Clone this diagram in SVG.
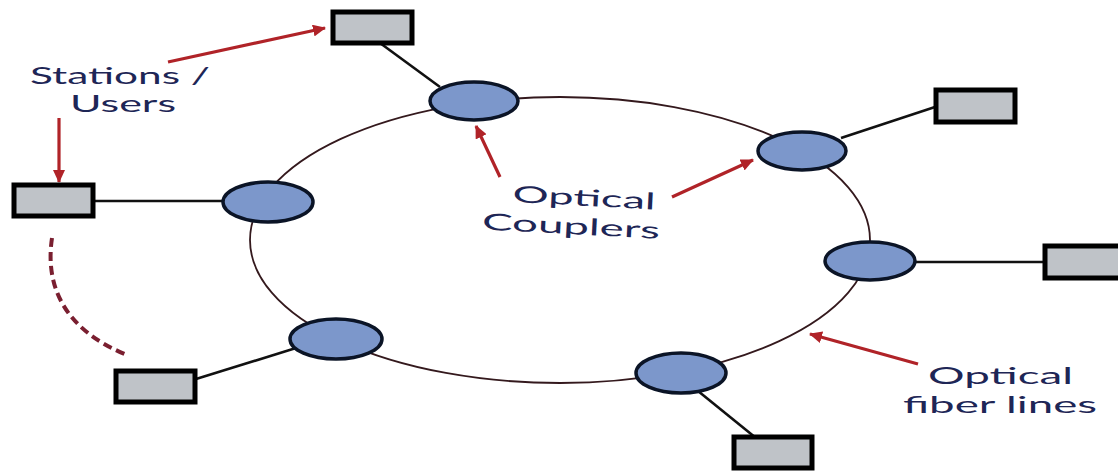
<svg xmlns="http://www.w3.org/2000/svg" width="1118" height="474" viewBox="0 0 1118 474">
<style>
.box{fill:#bfc3c8;stroke:#000;stroke-width:5}
.cp{fill:#7c97cb;stroke:#0b1426;stroke-width:3.5}
.spoke{stroke:#111;stroke-width:2.6;fill:none}
.ring{stroke:#34191d;stroke-width:1.8;fill:none}
.arr{stroke:#b02328;stroke-width:3.2;fill:none;marker-end:url(#ah)}
.lbl{font-family:Lato,"Open Sans",sans-serif;fill:#1e2656;font-size:23px}
</style>
<defs>
<marker id="ah" markerUnits="userSpaceOnUse" markerWidth="14" markerHeight="12" refX="12" refY="6" orient="auto">
<path d="M0,0 L13,6 L0,12 Z" fill="#b02328"/>
</marker>
</defs>
<rect width="1118" height="474" fill="#fff"/>
<g id="connectors">
<ellipse class="ring" cx="560" cy="240" rx="310" ry="143"/>
<line class="spoke" x1="380" y1="43" x2="440" y2="87"/>
<line class="spoke" x1="95" y1="201" x2="224" y2="201"/>
<line class="spoke" x1="841" y1="138" x2="935" y2="107"/>
<line class="spoke" x1="914" y1="262" x2="1044" y2="262"/>
<line class="spoke" x1="698" y1="391" x2="756" y2="438"/>
<line class="spoke" x1="196" y1="379" x2="296" y2="348"/>
<path d="M52 238 C44 292, 70 332, 127 355" fill="none" stroke="#7a1f30" stroke-width="4" stroke-dasharray="9 5"/>
<line class="arr" x1="168" y1="62" x2="325" y2="28"/>
<line class="arr" x1="59" y1="118" x2="59" y2="182"/>
<line class="arr" x1="500" y1="177" x2="476" y2="126"/>
<line class="arr" x1="672" y1="197" x2="753" y2="160"/>
<line class="arr" x1="918" y1="364" x2="810" y2="334"/>
</g>
<g id="station-top"><rect class="box" x="333" y="12" width="79" height="31"/></g>
<g id="station-left"><rect class="box" x="14" y="185" width="79" height="31"/></g>
<g id="station-upper-right"><rect class="box" x="936" y="90" width="79" height="32"/></g>
<g id="station-right"><rect class="box" x="1045" y="246" width="80" height="32"/></g>
<g id="station-bottom-right"><rect class="box" x="734" y="437" width="78" height="31"/></g>
<g id="station-bottom-left"><rect class="box" x="116" y="371" width="79" height="31"/></g>
<g id="coupler-top"><ellipse class="cp" cx="474" cy="101" rx="44" ry="19"/></g>
<g id="coupler-upper-right"><ellipse class="cp" cx="802" cy="151" rx="44" ry="19"/></g>
<g id="coupler-right"><ellipse class="cp" cx="870" cy="261" rx="45" ry="19"/></g>
<g id="coupler-bottom-right"><ellipse class="cp" cx="681" cy="373" rx="45" ry="20"/></g>
<g id="coupler-bottom-left"><ellipse class="cp" cx="336" cy="339" rx="46" ry="20"/></g>
<g id="coupler-left"><ellipse class="cp" cx="268" cy="202" rx="45" ry="20"/></g>
<g id="label-stations">
<text class="lbl" x="30" y="84" textLength="180" lengthAdjust="spacingAndGlyphs">Stations /</text>
<text class="lbl" x="70" y="112" textLength="106" lengthAdjust="spacingAndGlyphs">Users</text>
</g>
<g id="label-couplers" transform="rotate(3 570 210)">
<text class="lbl" x="512" y="205" textLength="143" lengthAdjust="spacingAndGlyphs">Optical</text>
<text class="lbl" x="483" y="234" textLength="178" lengthAdjust="spacingAndGlyphs">Couplers</text>
</g>
<g id="label-fiber">
<text class="lbl" x="928" y="384" textLength="145" lengthAdjust="spacingAndGlyphs">Optical</text>
<text class="lbl" x="903" y="413" textLength="194" lengthAdjust="spacingAndGlyphs">fiber lines</text>
</g>
</svg>
